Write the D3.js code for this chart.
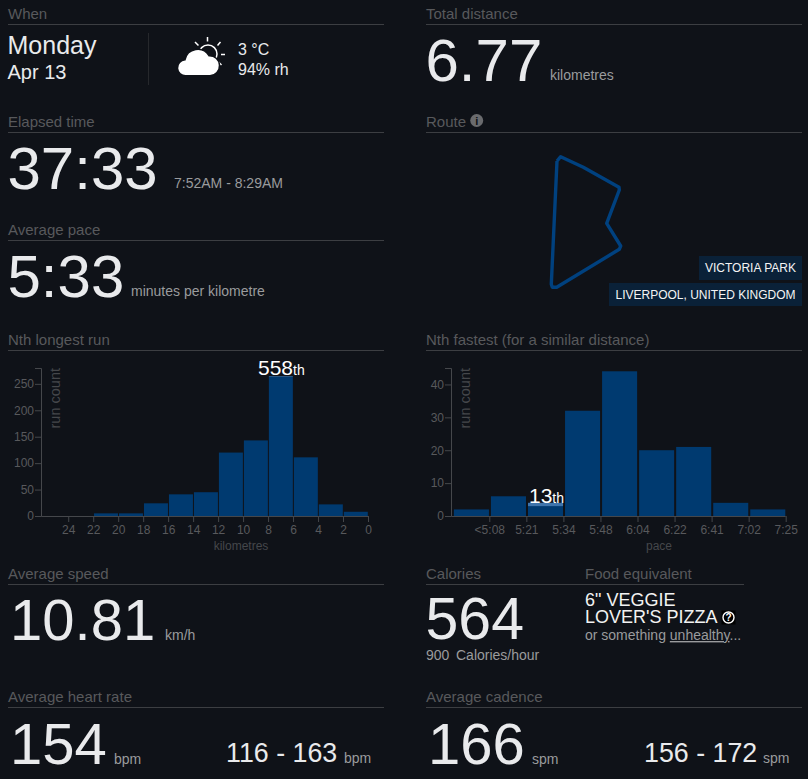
<!DOCTYPE html>
<meta charset="utf-8">
<style>

html, body {
  margin: 0;
  background: #0f1218;
}
svg {
  display: block;
  font-family: "Liberation Sans", Arial, sans-serif;
}
.axis path, .axis line {
  stroke: #45474b;
}
.axis text {
  fill: #58595c;
  font-size: 12px;
  font-family: "Liberation Sans", Arial, sans-serif;
}

</style>
<svg width="808" height="779"></svg>
<script src="https://d3js.org/d3.v7.min.js"></script>
<script>

// longest run histogram
var distanceBins = [[22, 20], [20, 18], [18, 16], [16, 14], [14, 12], [12, 10], [10, 8], [8, 6], [6, 4], [4, 2], [2, 0]];
var distanceCounts = [5, 5, 24, 41, 45, 120, 143, 264, 111, 22, 8];
var distanceTicks = [24, 22, 20, 18, 16, 14, 12, 10, 8, 6, 4, 2, 0];
var distanceCountTicks = [0, 50, 100, 150, 200, 250];

// fastest run histogram
var paceBins = ["a", "b", "c", "d", "e", "f", "g", "h", "i"];
var paceCounts = [2, 6, 4, 32, 44, 20, 21, 4, 2];
var paceTicks = ["<5:08", "5:21", "5:34", "5:48", "6:04", "6:22", "6:41", "7:02", "7:25"];
var paceCountTicks = [0, 10, 20, 30, 40];

// route outline
var routeX = [6, 9.7, 32.3, 68, 68.3, 55.7, 69.7, 68.3, 5.7, 1.3, 0.3, 6];
var routeY = [5, 0.7, 11.3, 31.3, 34, 67.3, 90, 93.3, 131.3, 131.3, 128.3, 5];

var svg = d3.select("svg");
var grey = "#58595c", soft = "#9a9b9d", bright = "#e9eaec", rule = "#3c3e42";

function label(x, y, text, size, fill) {
  return svg.append("text")
      .attr("x", x)
      .attr("y", y)
      .attr("font-size", size)
      .attr("fill", fill)
      .text(text);
}

function section(x, y, text, width) {
  label(x, y - 5, text, 15, grey);
  svg.append("line")
      .attr("x1", x)
      .attr("x2", x + (width || 376))
      .attr("y1", y + 0.5)
      .attr("y2", y + 0.5)
      .attr("stroke", rule);
}

section(8, 24, "When");
section(426, 24, "Total distance");
section(8, 132, "Elapsed time");
section(426, 132, "Route");
section(8, 240, "Average pace");
section(8, 350, "Nth longest run");
section(426, 350, "Nth fastest (for a similar distance)");
section(8, 584, "Average speed");
section(426, 584, "Calories", 318);
label(585, 579, "Food equivalent", 15, grey);
section(8, 707, "Average heart rate");
section(426, 707, "Average cadence");

// when
label(7.5, 54, "Monday", 25, bright);
label(7.5, 79, "Apr 13", 20, bright);
svg.append("line")
    .attr("x1", 148.5).attr("x2", 148.5)
    .attr("y1", 33).attr("y2", 85)
    .attr("stroke", "#26282c");
label(238, 55, "3 °C", 16, bright);
label(238, 75, "94% rh", 16, bright);

// weather icon
var icon = svg.append("g");
icon.append("circle")
    .attr("cx", 208).attr("cy", 54).attr("r", 9)
    .attr("fill", "none")
    .attr("stroke", "#fff")
    .attr("stroke-width", 1.5);
icon.selectAll("line.ray")
    .data([[207.5, 37, 207.5, 41.5], [221, 54.5, 225, 54.5], [195, 42, 198.5, 45.5], [220.5, 42, 217.5, 45.5], [218.5, 62, 221.5, 65]])
    .enter().append("line")
    .attr("x1", function(d) { return d[0]; })
    .attr("y1", function(d) { return d[1]; })
    .attr("x2", function(d) { return d[2]; })
    .attr("y2", function(d) { return d[3]; })
    .attr("stroke", "#fff")
    .attr("stroke-width", 1.5);
icon.append("path")
    .attr("d", "M186 75.7a8 8 0 0 1-1-16a13 13 0 0 1 24-4a10 10 0 0 1 1 20z")
    .attr("fill", "#fff")
    .attr("stroke", "#0f1218")
    .attr("stroke-width", 1.5);

// big numbers
label(425.5, 81, "6.77", 60, bright);
label(550, 80, "kilometres", 14, soft);
label(7.5, 189, "37:33", 60, bright);
label(174, 188, "7:52AM - 8:29AM", 14, soft);
label(7.5, 297, "5:33", 60, bright);
label(131, 296, "minutes per kilometre", 14, soft);
label(10, 640, "10.81", 58, bright);
label(165, 640, "km/h", 14, soft);
label(425.5, 639, "564", 59, bright);
label(426, 660, "900", 14, soft);
label(456, 660, "Calories/hour", 14, soft);
label(10, 764, "154", 58, bright);
label(114, 764, "bpm", 14, soft);
label(226, 762, "116 - 163", 26.8, bright);
label(344, 763, "bpm", 14, soft);
label(428, 764, "166", 58, bright);
label(532, 764, "spm", 14, soft);
label(644, 762, "156 - 172", 26.8, bright);
label(763, 763, "spm", 14, soft);

// food
label(585, 606, "6\" VEGGIE", 18, "#f2f2f2");
label(585, 623, "LOVER'S PIZZA", 18, "#f2f2f2");
svg.append("rect")
    .attr("x", 721.5).attr("y", 610.5)
    .attr("width", 14).attr("height", 14)
    .attr("fill", "#000");
svg.append("circle")
    .attr("cx", 728.5).attr("cy", 617.5).attr("r", 5.5)
    .attr("fill", "none")
    .attr("stroke", "#fff")
    .attr("stroke-width", 1.4);
label(728.5, 621, "?", 10, "#fff")
    .attr("text-anchor", "middle")
    .attr("font-weight", "bold");
var more = label(585, 640, "or something ", 14, soft);
more.append("tspan").attr("text-decoration", "underline").text("unhealthy");
more.append("tspan").text("...");

// info icon next to Route
svg.append("circle")
    .attr("cx", 476.7).attr("cy", 120.5).attr("r", 6.5)
    .attr("fill", "#6a6b6e");
label(476.7, 125, "i", 11, "#0f1218")
    .attr("text-anchor", "middle")
    .attr("font-weight", "bold");

// route
var routeXScale = d3.scaleLinear().domain([0, 100]).range([551, 651]);
var routeYScale = d3.scaleLinear().domain([0, 132]).range([156, 288]);
var routeLine = d3.line()
    .x(function(d) { return routeXScale(d); })
    .y(function(d, i) { return routeYScale(routeY[i]); })
    .curve(d3.curveLinear);

svg.append("path")
    .attr("d", routeLine(routeX))
    .attr("fill", "none")
    .attr("stroke", "#00417f")
    .attr("stroke-width", 3.4)
    .attr("stroke-linejoin", "round");

svg.append("rect").attr("x", 699).attr("y", 256).attr("width", 103).attr("height", 24).attr("fill", "#0a2138");
svg.append("rect").attr("x", 609).attr("y", 283).attr("width", 193).attr("height", 23).attr("fill", "#0a2138");
label(705, 272, "VICTORIA PARK", 12, "#f4f4f4");
label(615.5, 299, "LIVERPOOL, UNITED KINGDOM", 12, "#f4f4f4");

function axisLabels(yLabelX, xLabelX, xText) {
  label(0, 0, "run count", 14.5, "#45474b")
      .attr("text-anchor", "end")
      .attr("transform", "translate(" + yLabelX + ",368) rotate(-90)");
  label(xLabelX, 550, xText, 12, "#45474b").attr("text-anchor", "middle");
}

// Nth longest run
var distanceX = d3.scaleLinear().domain([26.18, 0]).range([41, 368]);
var distanceY = d3.scaleLinear().domain([0, 280]).range([516, 368]);

svg.append("g")
    .selectAll("rect")
    .data(distanceBins)
    .enter().append("rect")
    .attr("x", function(d) { return distanceX(d[0]) + 0.8; })
    .attr("y", function(d, i) { return distanceY(distanceCounts[i]); })
    .attr("width", function(d) { return distanceX(d[1]) - distanceX(d[0]) - 1; })
    .attr("height", function(d, i) { return distanceY(0) - distanceY(distanceCounts[i]); })
    .attr("fill", "#003a70");

svg.append("rect")
    .attr("x", distanceX(8) + 0.8)
    .attr("y", distanceY(264))
    .attr("width", distanceX(6) - distanceX(8) - 1)
    .attr("height", distanceY(263) - distanceY(264))
    .attr("fill", "#4a7fb5");

svg.append("g")
    .attr("class", "axis")
    .attr("transform", "translate(0,516)")
    .call(d3.axisBottom(distanceX).tickValues(distanceTicks).tickFormat(d3.format("d")).tickSizeOuter(0));
svg.append("g")
    .attr("class", "axis")
    .attr("transform", "translate(41,0)")
    .call(d3.axisLeft(distanceY).tickValues(distanceCountTicks).tickPadding(1));
axisLabels(60, 241, "kilometres");

label(258, 375, "558", 21, "#fff").append("tspan").attr("font-size", 14).text("th");

// Nth fastest
var paceX = d3.scaleBand().domain(paceBins).range([452.3, 785.7]);
var paceTickX = d3.scalePoint().domain(paceTicks).range([489.3, 785.7]);
var paceY = d3.scaleLinear().domain([0, 45]).range([516, 368]);

svg.append("g")
    .selectAll("rect")
    .data(paceBins)
    .enter().append("rect")
    .attr("x", function(d) { return paceX(d) + 1.6; })
    .attr("y", function(d, i) { return paceY(paceCounts[i]); })
    .attr("width", paceX.bandwidth() - 2)
    .attr("height", function(d, i) { return paceY(0) - paceY(paceCounts[i]); })
    .attr("fill", "#003a70");

svg.append("rect")
    .attr("x", paceX("c") + 1.6)
    .attr("y", paceY(4))
    .attr("width", paceX.bandwidth() - 2)
    .attr("height", paceY(3) - paceY(4))
    .attr("fill", "#3f74ab");

var paceAxis = svg.append("g")
    .attr("class", "axis")
    .attr("transform", "translate(0,516)")
    .call(d3.axisBottom(paceTickX).tickSizeOuter(0));
paceAxis.select(".domain").attr("d", "M451.5,0.5H785.7");

svg.append("g")
    .attr("class", "axis")
    .attr("transform", "translate(451,0)")
    .call(d3.axisLeft(paceY).tickValues(paceCountTicks).tickPadding(1));
axisLabels(470, 659, "pace");

label(529, 503, "13", 21, "#fff").append("tspan").attr("font-size", 14).text("th");

</script>
